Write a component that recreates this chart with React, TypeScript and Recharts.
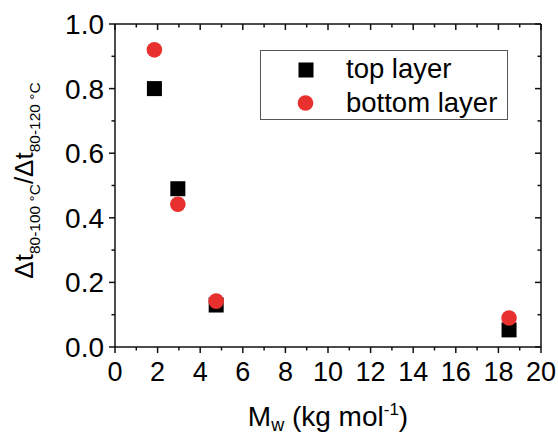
import React from 'react';
import { ScatterChart, Scatter, XAxis, YAxis, Legend } from 'recharts';

// values
const mwTop = [1.85, 2.95, 4.75, 18.5];
const ratioTop = [0.8, 0.49, 0.13, 0.053];
const mwBottom = [1.85, 2.95, 4.75, 18.5];
const ratioBottom = [0.92, 0.442, 0.142, 0.09];
const xTicks = [0, 1, 2, 3, 4, 5, 6, 7, 8, 9, 10, 11, 12, 13, 14, 15, 16, 17, 18, 19, 20];
const yTicks = [0, 0.1, 0.2, 0.3, 0.4, 0.5, 0.6, 0.7, 0.8, 0.9, 1.0];
const xDomain = [0, 20];
const yDomain = [0, 1];
const seriesNames = ['top layer', 'bottom layer'];

const topData = mwTop.map((x, i) => ({ x, y: ratioTop[i] }));
const bottomData = mwBottom.map((x, i) => ({ x, y: ratioBottom[i] }));

const W = 558;
const H = 437;
const LEFT = 115; // y axis area
const TOP = 24;
const RIGHT = 17;
const BOTTOM = 90; // x axis area

const FONT = '"Liberation Sans", Arial, Helvetica, sans-serif';
const RED = '#e8312f';
const AXIS = '#111';

const isMajorX = (v: number) => Math.round(v) % 2 === 0;
const isMajorY = (v: number) => Math.round(v * 10) % 2 === 0;

const BottomTick = (props: any) => {
  const { x, y, payload } = props;
  const major = isMajorX(payload.value);
  return (
    <g>
      <line x1={x} x2={x} y1={y} y2={y + (major ? 6 : 3.5)} stroke={AXIS} strokeWidth={1.5} />
      {major && (
        <text x={x} y={y + 34} textAnchor="middle" fontSize={27} fontFamily={FONT} fill="#000">
          {payload.value}
        </text>
      )}
    </g>
  );
};

const LeftTick = (props: any) => {
  const { x, y, payload } = props;
  const major = isMajorY(payload.value);
  return (
    <g>
      <line x1={x - (major ? 6 : 3.5)} x2={x} y1={y} y2={y} stroke={AXIS} strokeWidth={1.5} />
      {major && (
        <text x={x - 11} y={y + 10} textAnchor="end" fontSize={28} fontFamily={FONT} fill="#000">
          {payload.value.toFixed(1)}
        </text>
      )}
    </g>
  );
};

// mirrored ticks: drawn by overlay axes whose own area holds the tick marks
const TopEdgeTick = (props: any) => {
  const { x, y, payload } = props;
  const len = isMajorX(payload.value) ? 6 : 3.5;
  return <line x1={x} x2={x} y1={y} y2={y + len} stroke={AXIS} strokeWidth={1.5} />;
};

const RightEdgeTick = (props: any) => {
  const { x, y, payload } = props;
  const len = isMajorY(payload.value) ? 6 : 3.5;
  return <line x1={x - len} x2={x} y1={y} y2={y} stroke={AXIS} strokeWidth={1.5} />;
};

const SquareShape = (p: any) => (
  <rect x={p.cx - 7.5} y={p.cy - 7.5} width={15} height={15} fill="#000" />
);
const CircleShape = (p: any) => <circle cx={p.cx} cy={p.cy} r={7.8} fill={RED} />;
const NoShape = () => <g />;

const XTitle = (props: any) => {
  const { viewBox } = props;
  const cx = viewBox.x + viewBox.width / 2;
  return (
    <text x={cx} y={viewBox.y + 79} textAnchor="middle" fontSize={28} fontFamily={FONT} fill="#000">
      M
      <tspan fontSize={18} dy={5}>w</tspan>
      <tspan dy={-5}> (kg mol</tspan>
      <tspan fontSize={17} dy={-11}>-1</tspan>
      <tspan dy={11}>)</tspan>
    </text>
  );
};

const YTitle = (props: any) => {
  const { viewBox } = props;
  const cy = viewBox.y + viewBox.height / 2;
  return (
    <text
      transform={`translate(33, ${cy - 5}) rotate(-90)`}
      textAnchor="middle"
      fontSize={26}
      fontFamily={FONT}
      fill="#000"
    >
      Δt
      <tspan fontSize={15.5} dy={7}>80-100 °C</tspan>
      <tspan dy={-7}>/Δt</tspan>
      <tspan fontSize={15.5} dy={7}>80-120 °C</tspan>
    </text>
  );
};

const LegendBox = () => (
  <svg width={248} height={70} style={{ display: 'block' }}>
    <rect x={0.5} y={0.5} width={247} height={69} fill="#fff" stroke="#555" strokeWidth={1} />
    <rect x={38.5} y={12.5} width={15} height={15} fill="#000" />
    <circle cx={45.5} cy={53} r={7.8} fill={RED} />
    <text x={86} y={28} fontSize={27.5} fontFamily={FONT} fill="#000">{seriesNames[0]}</text>
    <text x={86} y={62} fontSize={27.5} fontFamily={FONT} fill="#000">{seriesNames[1]}</text>
  </svg>
);

const layer: React.CSSProperties = { position: 'absolute', left: 0, top: 0, pointerEvents: 'none' };

export default function App() {
  return (
    <div style={{ position: 'absolute', left: 0, top: 0, width: W, height: H, background: '#fff' }}>
      <div style={layer}>
        <ScatterChart width={W} height={H} margin={{ top: TOP, right: RIGHT, left: 0, bottom: 0 }}>
          <XAxis
            type="number"
            dataKey="x"
            domain={xDomain}
            ticks={xTicks}
            interval={0}
            height={BOTTOM}
            tickSize={0}
            tickMargin={0}
            tickLine={false}
            tick={<BottomTick />}
            axisLine={{ stroke: AXIS, strokeWidth: 1.5 }}
            label={<XTitle />}
          />
          <YAxis
            type="number"
            dataKey="y"
            domain={yDomain}
            ticks={yTicks}
            interval={0}
            width={LEFT}
            tickSize={0}
            tickMargin={0}
            tickLine={false}
            tick={<LeftTick />}
            axisLine={{ stroke: AXIS, strokeWidth: 1.5 }}
            label={<YTitle />}
          />
          <Legend
            layout="vertical"
            align="center"
            verticalAlign="middle"
            wrapperStyle={{ left: 260, top: 50, width: 248, height: 70 }}
            content={() => <LegendBox />}
          />
          <Scatter name={seriesNames[0]} data={topData} fill="#000" shape={SquareShape} isAnimationActive={false} />
          <Scatter name={seriesNames[1]} data={bottomData} fill={RED} shape={CircleShape} isAnimationActive={false} />
        </ScatterChart>
      </div>

      {/* top edge of the box with inward ticks */}
      <div style={layer}>
        <ScatterChart width={W} height={H} margin={{ top: 0, right: RIGHT, left: LEFT, bottom: 0 }}>
          <XAxis
            type="number"
            dataKey="x"
            domain={xDomain}
            ticks={xTicks}
            interval={0}
            height={H - TOP}
            tickSize={0}
            tickMargin={0}
            tickLine={false}
            tick={<TopEdgeTick />}
            axisLine={{ stroke: AXIS, strokeWidth: 1.5 }}
          />
          <YAxis hide type="number" dataKey="y" domain={yDomain} />
          <Scatter data={topData} shape={NoShape} legendType="none" isAnimationActive={false} />
        </ScatterChart>
      </div>

      {/* right edge of the box with inward ticks */}
      <div style={layer}>
        <ScatterChart width={W} height={H} margin={{ top: TOP, right: 0, left: 0, bottom: BOTTOM }}>
          <XAxis hide type="number" dataKey="x" domain={xDomain} />
          <YAxis
            type="number"
            dataKey="y"
            domain={yDomain}
            ticks={yTicks}
            interval={0}
            width={W - RIGHT}
            tickSize={0}
            tickMargin={0}
            tickLine={false}
            tick={<RightEdgeTick />}
            axisLine={{ stroke: AXIS, strokeWidth: 1.5 }}
          />
          <Scatter data={topData} shape={NoShape} legendType="none" isAnimationActive={false} />
        </ScatterChart>
      </div>
    </div>
  );
}
